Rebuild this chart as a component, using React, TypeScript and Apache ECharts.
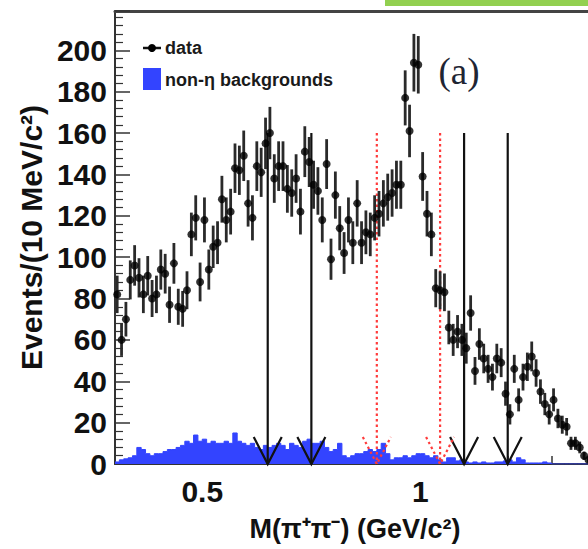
import React, { useEffect, useRef } from "react";
import * as echarts from "echarts";

// Histogram binning (GeV/c^2)
const binStart = 0.3;
const binWidth = 0.01;

// Events per 10 MeV bin (data points)
const dataCounts = [
  82, 60, 70, 89, 96, 90, 82, 91, 80, 82,
  94, 92, 77, 97, 76, 75, 84, 111, 119, 88,
  118, 94, 105, 107, 128, 118, 122, 143, 142, 149,
  126, 119, 144, 141, 155, 160, 138, 144, 144, 133,
  131, 138, 122, 151, 146, 135, 132, 118, 145, 99,
  130, 114, 102, 118, 107, 126, 107, 112, 111, 119,
  121, 126, 129, 131, 135, 135, 177, 161, 194, 193,
  139, 121, 111, 85, 84, 83, 66, 60, 64, 60,
  56, 73, 45, 58, 51, 46, 42, 51, 49, 34,
  24, 46, 31, 42, 47, 52, 44, 35, 29, 24,
  31, 22, 19, 18, 10, 10, 8, 4, 2,
];

// non-eta backgrounds per bin
const bkgCounts = [
  1, 2, 2.5, 3, 4, 8, 7, 5, 4, 5,
  5, 6, 7, 7, 8, 9, 11, 10, 14, 11,
  12, 10, 11, 10, 10, 11, 10, 15, 11, 10,
  9, 10, 8, 7, 9, 8, 9, 10, 9, 7,
  10, 9, 8, 11, 12, 10, 10, 11, 8, 6,
  7, 10, 4, 3, 4, 5, 5, 6, 7, 6,
  7, 10, 5, 2, 3, 3, 4, 3, 4, 5,
  5, 4, 3, 4, 2, 1, 3, 3, 1.5, 2,
  1, 0.5, 1, 0.5, 1, 0.5, 0.5, 1, 1, 1.5,
  2, 1, 3, 2, 0.5, 0.5, 0.5, 0.5, 1, 0.5,
  0, 0, 0, 0, 0, 0, 0, 0, 0,
];

const solidArrowX = [0.65, 0.75, 1.1, 1.2];
const dottedArrowX = [0.9, 1.045];
const arrowTop = 160;

const xMin = 0.3;
const xMax = 1.4;
const yMax = 219;
const xLabelValues = [0.5, 1];
const xLabelTexts = ["0.5", "1"];

const FONT = "'Liberation Sans', Arial, Helvetica, sans-serif";

export default function App() {
  const ref = useRef<HTMLDivElement>(null);

  useEffect(() => {
    if (!ref.current) return;
    const chart = echarts.init(ref.current, undefined, { renderer: "svg" });

    const centers = dataCounts.map((_, k) => binStart + (k + 0.5) * binWidth);
    const points = dataCounts.map((v, k) => [centers[k], v]);
    const errs = dataCounts.map((v, k) => [centers[k], v - Math.sqrt(v), v + Math.sqrt(v)]);
    const bkgStep = bkgCounts.map((v, k) => [binStart + k * binWidth, v]);
    bkgStep.push([binStart + bkgCounts.length * binWidth, bkgCounts[bkgCounts.length - 1]]);

    const arrowRender = (color: string, dash: number[] | null) => (params: any, api: any) => {
      const x = api.value(0);
      const top = api.coord([x, api.value(1)]);
      const tip = api.coord([x, 0]);
      const style: any = { stroke: color, lineWidth: 2.2, fill: "none" };
      if (dash) style.lineDash = dash;
      return {
        type: "group",
        children: [
          { type: "line", shape: { x1: top[0], y1: top[1], x2: tip[0], y2: tip[1] }, style },
          { type: "polyline", shape: { points: [[tip[0] - 14, tip[1] - 27], [tip[0], tip[1]], [tip[0] + 14, tip[1] - 27]] }, style },
        ],
      };
    };

    chart.setOption({
      animation: false,
      grid: { left: 115, top: 11, right: 1, bottom: 85, containLabel: false },
      xAxis: [
        {
          type: "value",
          min: xMin,
          max: xMax,
          interval: 0.1,
          axisLine: { show: true, lineStyle: { color: "#333", width: 2 } },
          axisTick: { show: true, inside: true, length: 8, lineStyle: { color: "#333", width: 1.5 } },
          splitLine: { show: false },
          axisLabel: {
            show: true,
            interval: 0,
            hideOverlap: false,
            margin: 12,
            fontSize: 30,
            fontWeight: "bold",
            fontFamily: FONT,
            color: "#111",
            formatter: (v: number) => {
              for (let i = 0; i < xLabelValues.length; i++) {
                if (Math.abs(v - xLabelValues[i]) < 1e-6) return xLabelTexts[i];
              }
              return "";
            },
          },
          name: "M(π⁺π⁻) (GeV/c²)",
          nameLocation: "middle",
          nameGap: 51,
          nameTextStyle: { fontSize: 27, fontWeight: "bold", fontFamily: FONT, color: "#111" },
        },
        {
          type: "value",
          position: "top",
          min: xMin,
          max: xMax,
          axisLine: { show: true, onZero: false, lineStyle: { color: "#444", width: 3 } },
          axisTick: { show: false },
          axisLabel: { show: false },
          splitLine: { show: false },
        },
      ],
      yAxis: {
        type: "value",
        min: 0,
        max: yMax,
        interval: 20,
        axisLine: { show: true, lineStyle: { color: "#333", width: 2 } },
        axisTick: { show: true, inside: true, length: 15, lineStyle: { color: "#333", width: 1.5 } },
        minorTick: { show: true, splitNumber: 5, length: 8, lineStyle: { color: "#333", width: 1.2 } },
        splitLine: { show: false },
        axisLabel: {
          margin: 8,
          fontSize: 30,
          fontWeight: "bold",
          fontFamily: FONT,
          color: "#111",
          showMaxLabel: false,
        },
        name: "Events/(10 MeV/c²)",
        nameLocation: "middle",
        nameGap: 61,
        nameTextStyle: { fontSize: 30, fontWeight: "bold", fontFamily: FONT, color: "#111" },
      },
      series: [
        {
          type: "line",
          name: "non-η backgrounds",
          data: bkgStep,
          step: "end",
          symbol: "none",
          lineStyle: { color: "#3344ff", width: 1 },
          areaStyle: { color: "#3344ff", opacity: 1 },
          z: 1,
        },
        {
          type: "custom",
          data: solidArrowX.map((x) => [x, arrowTop]),
          renderItem: arrowRender("#111", null),
          z: 3,
          silent: true,
        },
        {
          type: "custom",
          data: dottedArrowX.map((x) => [x, arrowTop]),
          renderItem: arrowRender("#ff3b3b", [2.5, 3]),
          z: 3,
          silent: true,
        },
        {
          type: "custom",
          data: errs,
          renderItem: (params: any, api: any) => {
            const x = api.value(0);
            const lo = api.coord([x, api.value(1)]);
            const hi = api.coord([x, api.value(2)]);
            return {
              type: "line",
              shape: { x1: lo[0], y1: lo[1], x2: hi[0], y2: hi[1] },
              style: { stroke: "#2a2a2a", lineWidth: 2.8 },
            };
          },
          z: 4,
          silent: true,
        },
        {
          type: "scatter",
          name: "data",
          data: points,
          symbol: "circle",
          symbolSize: 8,
          itemStyle: { color: "#000" },
          z: 5,
        },
      ],
      graphic: [
        { type: "rect", shape: { x: 385, y: 0, width: 210, height: 6 }, style: { fill: "#92d050" } },
        { type: "line", shape: { x1: 143, y1: 48, x2: 161, y2: 48 }, style: { stroke: "#111", lineWidth: 2.5 } },
        { type: "circle", shape: { cx: 152, cy: 48, r: 4 }, style: { fill: "#000" } },
        {
          type: "text",
          x: 165,
          y: 48,
          style: { text: "data", fontSize: 18, fontWeight: "bold", fontFamily: FONT, fill: "#1a1a1a", verticalAlign: "middle" },
        },
        { type: "rect", shape: { x: 143, y: 68, width: 18, height: 22 }, style: { fill: "#3344ff" } },
        {
          type: "text",
          x: 165,
          y: 80,
          style: { text: "non-η backgrounds", fontSize: 18, fontWeight: "bold", fontFamily: FONT, fill: "#1a1a1a", verticalAlign: "middle" },
        },
        {
          type: "text",
          x: 459,
          y: 71,
          style: { text: "(a)", fontSize: 37, fontFamily: "'Liberation Serif', 'Times New Roman', serif", fill: "#1f2533", align: "center", verticalAlign: "middle" },
        },
      ],
    });

    return () => chart.dispose();
  }, []);

  return (
    <div style={{ position: "fixed", left: 0, top: 0, width: 588, height: 549, overflow: "hidden", background: "#fff" }}>
      <div ref={ref} style={{ width: 598, height: 549 }} />
    </div>
  );
}
